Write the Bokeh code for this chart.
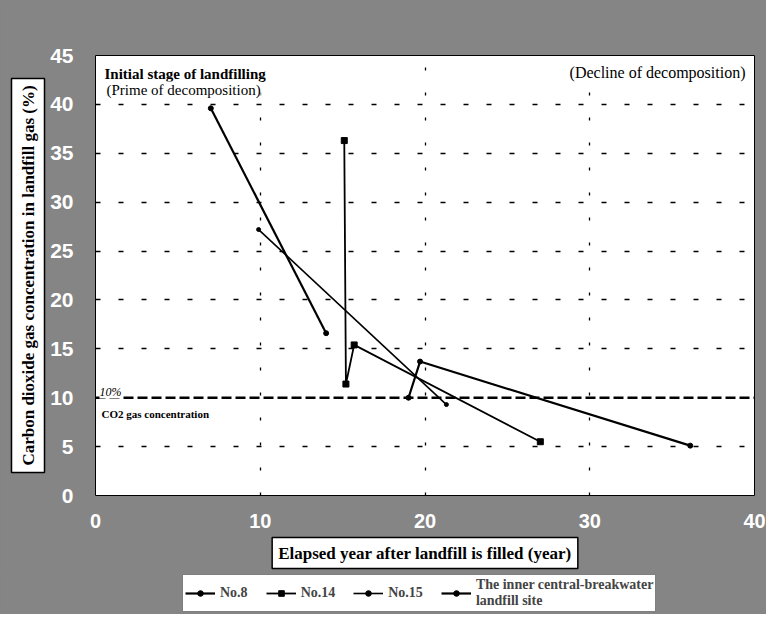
from bokeh.plotting import figure
from bokeh.models import Label, Legend, LegendItem, Span, FixedTicker, Title
from bokeh.layouts import column
from bokeh.embed import file_html
from bokeh.resources import INLINE

# ---- data ----
no8_x = [7.0, 14.0]
no8_y = [39.6, 16.6]
no14_x = [15.1, 15.2, 15.7, 27.0]
no14_y = [36.3, 11.4, 15.4, 5.5]
no15_x = [9.9, 21.3]
no15_y = [27.2, 9.3]
inner_x = [19.0, 19.7, 36.1]
inner_y = [10.0, 13.7, 5.1]

threshold = 10
x_ticks = [0, 10, 20, 30, 40]
y_ticks = [0, 5, 10, 15, 20, 25, 30, 35, 40, 45]
y_grid = [5, 15, 20, 25, 30, 35, 40]
x_grid = [10, 20, 30]

series_names = ["No.8", "No.14", "No.15", "The inner central-breakwater\nlandfill site"]

SERIF = "Liberation Serif"
GREY = "#858585"

p = figure(width=766, height=574, x_range=(0, 40), y_range=(0, 45),
           output_backend="svg", toolbar_location=None,
           min_border_left=95, min_border_right=12, min_border_top=55, min_border_bottom=79)
p.border_fill_color = GREY
p.background_fill_color = "white"
p.outline_line_color = "black"
p.outline_line_width = 1

for ax, ticks in ((p.xaxis[0], x_ticks), (p.yaxis[0], y_ticks)):
    ax.ticker = FixedTicker(ticks=ticks)
    ax.axis_line_color = None
    ax.major_tick_line_color = None
    ax.minor_tick_line_color = None
    ax.major_label_text_color = "white"
    ax.major_label_text_font = "Liberation Sans"
    ax.major_label_text_font_style = "bold"
p.yaxis.major_label_text_font_size = "21px"
p.xaxis.major_label_text_font_size = "20px"
p.yaxis.major_label_standoff = 16
p.xaxis.major_label_standoff = 12

p.ygrid.ticker = FixedTicker(ticks=y_grid)
p.ygrid.grid_line_color = "black"
p.ygrid.grid_line_dash = "5 18"
p.ygrid.grid_line_width = 1.3
p.xgrid.ticker = FixedTicker(ticks=x_grid)
p.xgrid.grid_line_color = "black"
p.xgrid.grid_line_dash = "3 22"
p.xgrid.grid_line_width = 1.3

p.add_layout(Span(location=threshold, dimension="width", line_color="black",
                  line_width=2.5, line_dash="10 4"))

styles = [
    dict(width=2.2, marker="circle", size=5),
    dict(width=1.8, marker="square", size=6),
    dict(width=1.6, marker="circle", size=4),
    dict(width=2.2, marker="circle", size=5),
]
series = [(no8_x, no8_y), (no14_x, no14_y), (no15_x, no15_y), (inner_x, inner_y)]
for (xs, ys), st in zip(series, styles):
    p.line(xs, ys, line_color="black", line_width=st["width"])
    p.scatter(xs, ys, marker=st["marker"], size=st["size"], color="black")

# axis-label boxes as titles in the side panels
p.add_layout(Title(text="Carbon dioxide gas concentration in landfill gas (%)", align="center",
                   text_font=SERIF, text_font_size="17px", text_font_style="bold",
                   text_color="black", background_fill_color="white",
                   border_line_color="black", border_line_width=1.5, padding=7, standoff=6),
             "left")
p.add_layout(Title(text="Elapsed year after landfill is filled (year)", align="center",
                   text_font=SERIF, text_font_size="17px", text_font_style="bold",
                   text_color="black", background_fill_color="white",
                   border_line_color="black", border_line_width=1.5, padding=6, standoff=10),
             "below")

def lab(text, x, y, size, align="left", style="normal"):
    p.add_layout(Label(x=x, y=y, x_units="screen", y_units="screen", text=text,
                       text_font=SERIF, text_font_size=size, text_font_style=style,
                       text_color="black", text_align=align, text_baseline="middle",
                       background_fill_color="white"))

lab("Initial stage of landfilling", 9, 422, "15px", style="bold")
lab("(Prime of decomposition)", 11, 406, "15px")
lab("(Decline of decomposition)", 650, 423, "16px", align="right")
lab("10%", 4, 104, "12px", style="italic")
lab("CO2 gas concentration", 6, 82, "11px", style="bold")

# legend strip below the chart (series drawn outside its range, only the legend shows)
pl = figure(width=766, height=40, x_range=(-2, -1), y_range=(-2, -1),
            x_axis_type=None, y_axis_type=None, output_backend="svg",
            toolbar_location=None, min_border=0)
pl.grid.visible = False
pl.outline_line_color = None
pl.background_fill_color = GREY
pl.border_fill_color = GREY
items = []
for name, (xs, ys), st in zip(series_names, series, styles):
    lr = pl.line(xs, ys, line_color="black", line_width=st["width"])
    mr = pl.scatter(xs, ys, marker=st["marker"], size=st["size"], color="black")
    items.append(LegendItem(label=name, renderers=[lr, mr]))
legend = Legend(items=items, orientation="horizontal", location=(87, 2), margin=0,
                padding=2, spacing=18, glyph_width=30, glyph_height=14, label_standoff=5,
                label_text_font=SERIF, label_text_font_style="bold", label_text_font_size="14px",
                label_text_line_height=0.8,
                background_fill_color="white", background_fill_alpha=1,
                border_line_color="black", border_line_width=1.5)
pl.add_layout(legend, "center")

layout = column(p, pl, spacing=0, styles={"background-color": GREY})
open("out.html", "w").write(file_html(layout, INLINE))
